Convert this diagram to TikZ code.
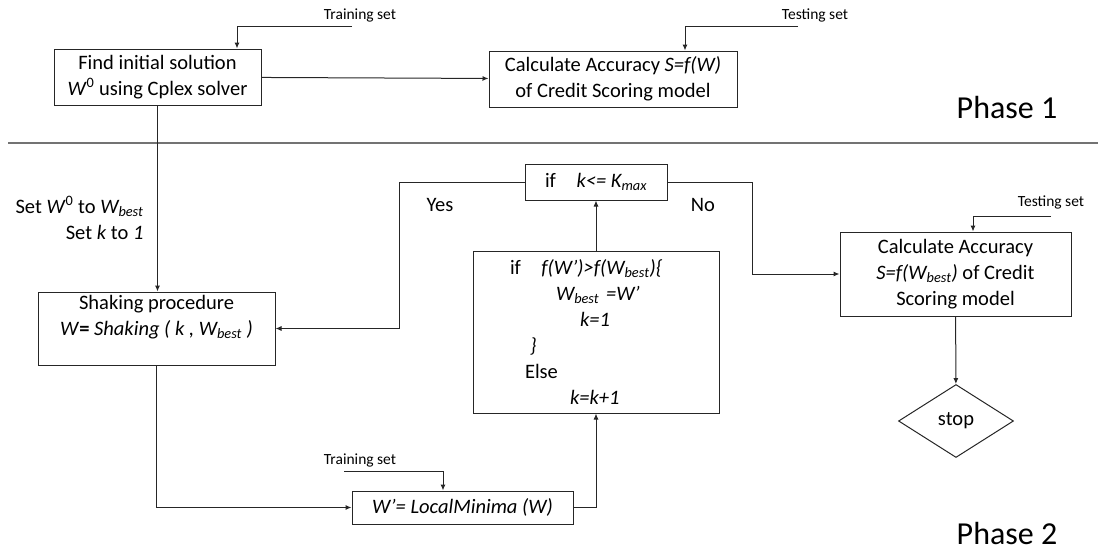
\documentclass[tikz,border=0pt]{standalone}
\usepackage{fontspec}
\setmainfont{Carlito}
\usepackage{tikz}
\usetikzlibrary{positioning,arrows.meta,shapes.geometric}

\begin{document}
\begin{tikzpicture}[x=1pt,y=-1pt,>={Latex[length=6pt,width=5pt]},
  every node/.style={font=\fontsize{20.5}{26}\selectfont},
  box/.style={draw=black!85,line width=1pt,rectangle,align=center,inner sep=0pt},
  tag/.style={font=\fontsize{15.5}{18}\selectfont},
  phase/.style={font=\fontsize{32}{36}\selectfont},
  flow/.style={draw=black!85,line width=1pt}]
  \useasboundingbox (0,0) rectangle (1098,552);

  % Phase 1: initial solution and its accuracy
  \node[box,minimum width=207pt,minimum height=56pt] (find) at (157.5,77)
    {Find initial solution\\ \textit{W}\textsuperscript{0} using Cplex solver};
  \node[box,minimum width=248pt,minimum height=56pt] (calc1) at (613,79)
    {Calculate Accuracy \textit{S=f(W)}\\ of Credit Scoring model};
  \node[tag] (trainA) at (360,15) {Training set};
  \node[tag] (testA) at (815,15) {Testing set};
  \node[phase] (ph1) at (1007,108) {Phase 1};
  \coordinate (trA) at (352,26);
  \coordinate (teA) at (798,26);

  % divider
  \draw[black!55,line width=1.6pt] (8,143) -- (1098,143);

  % Phase 2: search loop
  \node[box,minimum width=237pt,minimum height=73pt] (shake) at (156.5,328.5)
    {Shaking procedure\\ \textit{W}\textbf{=} \textit{Shaking ( k , W\textsubscript{best} )}\\ ~};
  \node[box,minimum width=142pt,minimum height=36pt] (ifk) at (596,182)
    {if\quad\textit{k<= K\textsubscript{max}}};
  \node[box,align=left,text width=246pt,minimum height=162pt] (upd) at (596,332)
    {\hspace*{37pt}if\quad\textit{f(W’)>f(W\textsubscript{best})\{}\\
     \hspace*{83pt}\textit{W\textsubscript{best} =W’}\\
     \hspace*{107pt}\textit{k=1}\\
     \hspace*{57pt}\textit{\}}\\
     \hspace*{52pt}Else\\
     \hspace*{97pt}\textit{k=k+1}};
  \node[box,minimum width=221pt,minimum height=33pt] (lm) at (462.5,507.5)
    {\textit{W’= LocalMinima (W)}};
  \node[box,minimum width=231pt,minimum height=84pt] (calc2) at (955.5,274)
    {Calculate Accuracy\\ \textit{S=f(W\textsubscript{best})} of Credit\\ Scoring model};
  \node[draw=black!85,line width=1pt,diamond,inner sep=0pt,minimum width=115pt,
    minimum height=73pt] (stop) at (956,421) {stop};
  \node[anchor=east,align=right] (setw) at (147,218)
    {Set \textit{W}\textsuperscript{0} to \textit{W\textsubscript{best}}\\ Set \textit{k} to \textit{1}};
  \node (yes) at (440,205) {Yes};
  \node (no) at (703,205) {No};
  \node[tag] (trainB) at (360,460) {Training set};
  \node[tag] (testB) at (1051,202) {Testing set};
  \node[phase] (ph2) at (1007,533) {Phase 2};
  \coordinate (trB) at (344,471);
  \coordinate (teB) at (1051,216);

  \draw[flow,->] (trA) -| ([xshift=79.5pt]find.north);
  \draw[flow,->] (teA) -| ([xshift=72pt]calc1.north);
  \draw[flow,->] (find) -- (calc1);
  \draw[flow,->] (find.south) -- (find.south |- shake.north);
  \draw[flow,->] (shake.south) |- (lm.west);
  \draw[flow,->] (trB) -| ([xshift=-19.5pt]lm.north);
  \draw[flow,->] (lm.east) -| (upd.south);
  \draw[flow,->] (upd) -- (ifk);
  \draw[flow,->] (ifk.west) -- ++(-125,0) |- (shake.east);
  \draw[flow,->] (ifk.east) -- ++(85,0) |- (calc2.west);
  \draw[flow,->] (teB) -| ([xshift=17.5pt]calc2.north);
  \draw[flow,->] (calc2) -- (stop);
\end{tikzpicture}
\end{document}
